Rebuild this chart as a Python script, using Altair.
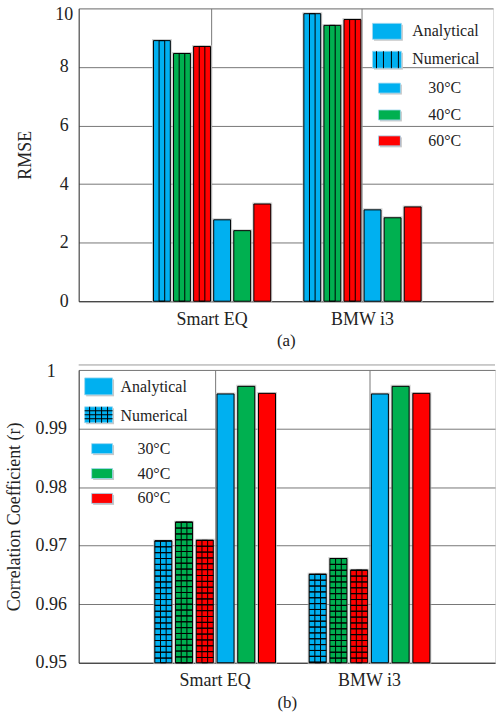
import altair as alt
import pandas as pd

FONT = "Liberation Serif"

cars = ["Smart EQ", "BMW i3"]
temps = ["30°C", "40°C", "60°C"]
methods = ["Numerical", "Analytical"]
colors = ["#00B0F0", "#00B050", "#FF0000"]
legend_types = ["Analytical", "Numerical"]

rmse_num_smart = [8.90, 8.46, 8.70]
rmse_ana_smart = [2.78, 2.41, 3.32]
rmse_num_bmw = [9.82, 9.42, 9.62]
rmse_ana_bmw = [3.12, 2.85, 3.22]

r_num_smart = [0.9708, 0.9740, 0.9709]
r_ana_smart = [0.9959, 0.9972, 0.9960]
r_num_bmw = [0.9651, 0.9678, 0.9658]
r_ana_bmw = [0.9959, 0.9972, 0.9960]

rmse_ticks = [0, 2, 4, 6, 8, 10]
r_ticks = [0.95, 0.96, 0.97, 0.98, 0.99, 1.0]

slots = [f"{m} {t}" for m in methods for t in temps]


def make_table(num_smart, ana_smart, num_bmw, ana_bmw):
    rows = []
    for car, m, lst in [("Smart EQ", "Numerical", num_smart), ("Smart EQ", "Analytical", ana_smart),
                        ("BMW i3", "Numerical", num_bmw), ("BMW i3", "Analytical", ana_bmw)]:
        for t, v in zip(temps, lst):
            rows.append(dict(car=car, method=m, temp=t, slot=f"{m} {t}", value=v))
    return pd.DataFrame(rows)


one = pd.DataFrame({"k": [0]})


def rect(x1, x2, y1, y2, color, stroke=None, sw=1):
    kw = dict(color=color)
    if stroke:
        kw.update(stroke=stroke, strokeWidth=sw)
    return alt.Chart(one).mark_rect(**kw).encode(
        x=alt.value(x1), x2=alt.value(x2), y=alt.value(y1), y2=alt.value(y2))


def line(x1, x2, y1, y2, color="black", sw=1):
    return alt.Chart(one).mark_rule(color=color, strokeWidth=sw).encode(
        x=alt.value(x1), x2=alt.value(x2), y=alt.value(y1), y2=alt.value(y2))


def text(x, y, s, align="left"):
    return alt.Chart(one).mark_text(text=s, font=FONT, fontSize=16, align=align,
                                    baseline="middle", color="#222").encode(
        x=alt.value(x), y=alt.value(y))


def swatch(x1, x2, y1, y2, color):
    return [rect(x1 + 1.5, x2 + 1.5, y1 + 1.5, y2 + 1.5, "#c8c8c8"),
            rect(x1, x2, y1, y2, color, stroke="#9fd8f0", sw=0.8)]


def panel(df, W, H, xsc, pin, pout, ydom, yvals, yfmt, top_val, top_off, ytitle, ylabpad,
          ytitlepad, xtitle, xlabpad, xtitlepad, grid_hatch, legend):
    xenc = alt.X("car:N", sort=cars, scale=alt.Scale(domain=cars, **xsc),
                 axis=alt.Axis(title=xtitle, grid=True, gridColor="#777", ticks=False,
                               domainColor="#333", labelAngle=0, labelFont=FONT, labelFontSize=18,
                               labelColor="#222", labelPadding=xlabpad, titleFont=FONT,
                               titleFontSize=17, titleFontWeight="normal", titleColor="#222",
                               titlePadding=xtitlepad))
    oenc = alt.XOffset("slot:N", scale=alt.Scale(domain=slots, paddingInner=pin, paddingOuter=pout))
    # middle third of each bar, for the vertical hatch lines
    third = (1 - pin) / 3
    oenc_mid = alt.XOffset("slot:N", scale=alt.Scale(domain=slots, paddingInner=1 - third,
                                                     paddingOuter=pout + third))
    yscale = alt.Scale(domain=ydom, zero=False, nice=False)
    yaxis = alt.Axis(title=ytitle, values=yvals, format=yfmt, grid=True, gridColor="#777",
                     ticks=False, domainColor="#333", labelFont=FONT, labelFontSize=18,
                     labelColor="#222", labelAlign="center", labelPadding=ylabpad,
                     labelOffset={"condition": {"test": "datum.value == %s" % top_val,
                                                "value": top_off}, "value": 0},
                     titleFont=FONT, titleFontSize=18, titleFontWeight="normal",
                     titleColor="#222", titlePadding=ytitlepad)
    y = alt.Y("value:Q", scale=yscale, axis=yaxis)
    y2 = alt.datum(ydom[0])
    base = alt.Chart(df).encode(x=xenc, xOffset=oenc, y=y, y2=y2)
    shadow = base.mark_bar(filled=False, stroke="#bdbdbd", strokeWidth=3, strokeOpacity=0.7)
    bars = base.mark_bar(stroke="black", strokeWidth=1).encode(
        color=alt.Color("temp:N", scale=alt.Scale(domain=temps, range=colors), legend=None))
    vhatch = alt.Chart(df).transform_filter(alt.datum.method == "Numerical").mark_bar(
        filled=False, stroke="black", strokeWidth=1).encode(
        x=xenc, xOffset=oenc_mid, y=y, y2=y2)
    layers = [shadow, bars, vhatch]
    if grid_hatch:
        hh = alt.Chart(df).transform_filter(alt.datum.method == "Numerical").transform_calculate(
            lv="sequence(datum.value, %s, -0.001)" % ydom[0]).transform_flatten(["lv"]).mark_bar(
            filled=False, stroke="black", strokeWidth=1).encode(
            x=xenc, xOffset=oenc,
            y=alt.Y("lv:Q", scale=yscale),
            y2=alt.Y2("lv:Q"))
        layers.append(hh)
    layers += legend
    return alt.layer(*layers).resolve_scale(xOffset="independent").properties(width=W, height=H)


# ---------- legend (a) ----------
leg_a = []
leg_a += swatch(295, 324, 15, 31, colors[0])
leg_a.append(text(335, 23, legend_types[0]))
leg_a += swatch(295, 324, 43, 60, colors[0])
for lx in [299, 306, 314, 321]:
    leg_a.append(line(lx, lx, 43, 60))
leg_a.append(text(335, 51, legend_types[1]))
for i, (yy, c) in enumerate(zip([75, 102, 128], colors)):
    leg_a += swatch(301, 323, yy, yy + 10, c)
    leg_a.append(text(351, yy + 5, temps[i]))

# ---------- legend (b) ----------
leg_b = []
leg_b += swatch(6, 34, 8, 25, colors[0])
leg_b.append(text(42, 17, legend_types[0]))
leg_b += swatch(6, 34, 37, 53, colors[0])
for lx in [11, 17, 23, 29]:
    leg_b.append(line(lx, lx, 37, 53))
for ly in [41, 45, 49]:
    leg_b.append(line(6, 34, ly, ly))
leg_b.append(text(42, 46, legend_types[1]))
for i, (yy, c) in enumerate(zip([74, 99, 124], colors)):
    leg_b += swatch(13, 34, yy, yy + 10, c)
    leg_b.append(text(59, yy + 5, temps[i]))
leg_b.append(line(0, 418, -5, -5, color="#999"))

df_a = make_table(rmse_num_smart, rmse_ana_smart, rmse_num_bmw, rmse_ana_bmw)
df_b = make_table(r_num_smart, r_ana_smart, r_num_bmw, r_ana_bmw)

pa = panel(df_a, 416, 294,
           dict(paddingInner=0.199, paddingOuter=0.477, align=0.51), 0.16, 0.08,
           [0, 10], rmse_ticks, "d", 10, 6, "RMSE", 15, 20, "(a)", 9, 4, False, leg_a)
pb = panel(df_b, 418, 294,
           dict(paddingInner=0.194, paddingOuter=0.4455, align=0.54), 0.18, 0.09,
           [0.95, 1.0], r_ticks, ".2~f", 1, 2, "Correlation Coefficient (r)", 28, 12, "(b)", 9, 5,
           True, leg_b)

chart = alt.vconcat(pa, pb, spacing=13).resolve_scale(
    x="independent", y="independent", color="independent"
).properties(padding={"left": 4, "top": 3, "right": 0, "bottom": 0}).configure_view(
    stroke="#888", strokeWidth=1
).configure_axis(labelFont=FONT, titleFont=FONT).configure(background="white", font=FONT)

chart.save("out.html", embed_options={"renderer": "svg", "actions": False})
